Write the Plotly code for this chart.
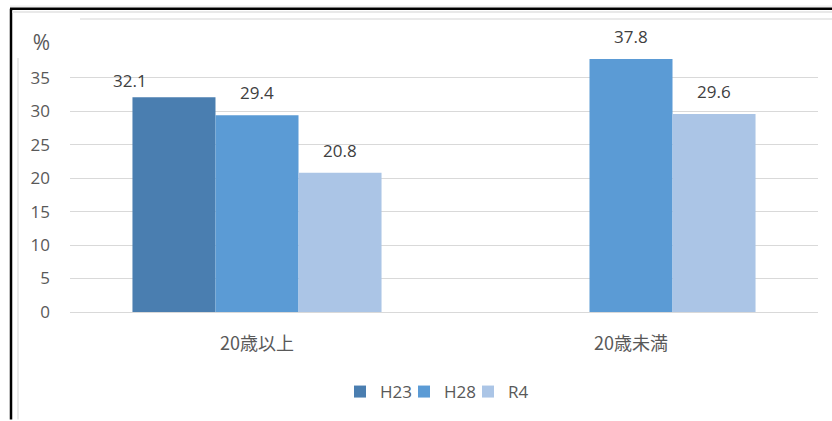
import plotly.graph_objects as go

# Survey results (%), by age group and survey year
categories = ["20歳以上", "20歳未満"]
series_names = ["H23", "H28", "R4"]
h23 = [32.1, None]
h28 = [29.4, 37.8]
r4 = [20.8, 29.6]
y_tick_vals = [0, 5, 10, 15, 20, 25, 30, 35, 40]
y_tick_text = ["0", "5", "10", "15", "20", "25", "30", "35",
               "<span style='font-size:21px'>%</span>"]

colors = ["#4a7eb0", "#5b9bd5", "#abc5e6"]
values = [h23, h28, r4]

fig = go.Figure()
for name, vals, col in zip(series_names, values, colors):
    fig.add_trace(go.Bar(
        name=name, x=categories, y=vals,
        marker=dict(color=col, line=dict(width=0)),
    ))

# value labels above each bar (pixel offsets follow the group slot of each series)
bar_px = 83
label_font = dict(family="Open Sans, Noto Sans CJK JP", size=17, color="#404040")
label_adjust = {("H23", 0): (-44, 3)}
for i, (name, vals) in enumerate(zip(series_names, values)):
    for j, v in enumerate(vals):
        if v is None:
            continue
        dx, dy = label_adjust.get((name, j), (0, 9))
        fig.add_annotation(
            x=categories[j], y=v, xref="x", yref="y",
            text=f"{v:.1f}", showarrow=False,
            xshift=(i - 1) * bar_px + dx, yshift=dy,
            yanchor="bottom", font=label_font,
        )

# frame lines around the chart
PL, PR, PT, PB = 70, 818, 44, 313
def px(x):
    return (x - PL) / (PR - PL)
def py(y):
    return (PB - y) / (PB - PT)

frame = [
    (10, 8.5, 832, 8.5, "#000000", 2.5),
    (11, 8.5, 11, 421, "#000000", 2.5),
    (12, 12, 832, 12, "#e2e2e2", 1.5),
    (10, 6, 832, 6, "#e6e6e6", 1),
    (80, 19, 832, 19, "#e3e3e3", 1.5),
    (18, 58, 18, 421, "#e3e3e3", 1.5),
]
for x0, y0, x1, y1, c, w in frame:
    fig.add_shape(type="line", xref="paper", yref="paper",
                  x0=px(x0), y0=py(y0), x1=px(x1), y1=py(y1),
                  line=dict(color=c, width=w), layer="above")

fig.update_layout(
    width=832, height=421,
    margin=dict(l=PL, r=832 - PR, t=PT, b=421 - PB),
    paper_bgcolor="white", plot_bgcolor="white",
    barmode="group", bargap=0.334, bargroupgap=0,
    showlegend=True,
    legend=dict(
        orientation="h", x=px(436), y=py(392),
        xanchor="center", yanchor="middle",
        font=dict(family="Open Sans, Noto Sans CJK JP", size=17, color="#595959"),
        itemwidth=30, entrywidth=19, traceorder="normal",
    ),
    font=dict(family="Noto Sans CJK JP", color="#595959"),
)
fig.update_yaxes(
    range=[0, 40.05], tickvals=y_tick_vals, ticktext=y_tick_text,
    showgrid=True, gridcolor="#d9d9d9", gridwidth=1.3,
    zeroline=True, zerolinecolor="#d9d9d9", zerolinewidth=1.3,
    showline=False, ticks="", ticklabelstandoff=19,
    tickfont=dict(family="Open Sans, Noto Sans CJK JP", size=17, color="#595959"),
)
fig.update_xaxes(
    showgrid=False, showline=False, ticks="", ticklabelstandoff=19,
    tickfont=dict(family="Noto Sans CJK JP", size=18, color="#595959"),
)

fig.write_html("out.html")
